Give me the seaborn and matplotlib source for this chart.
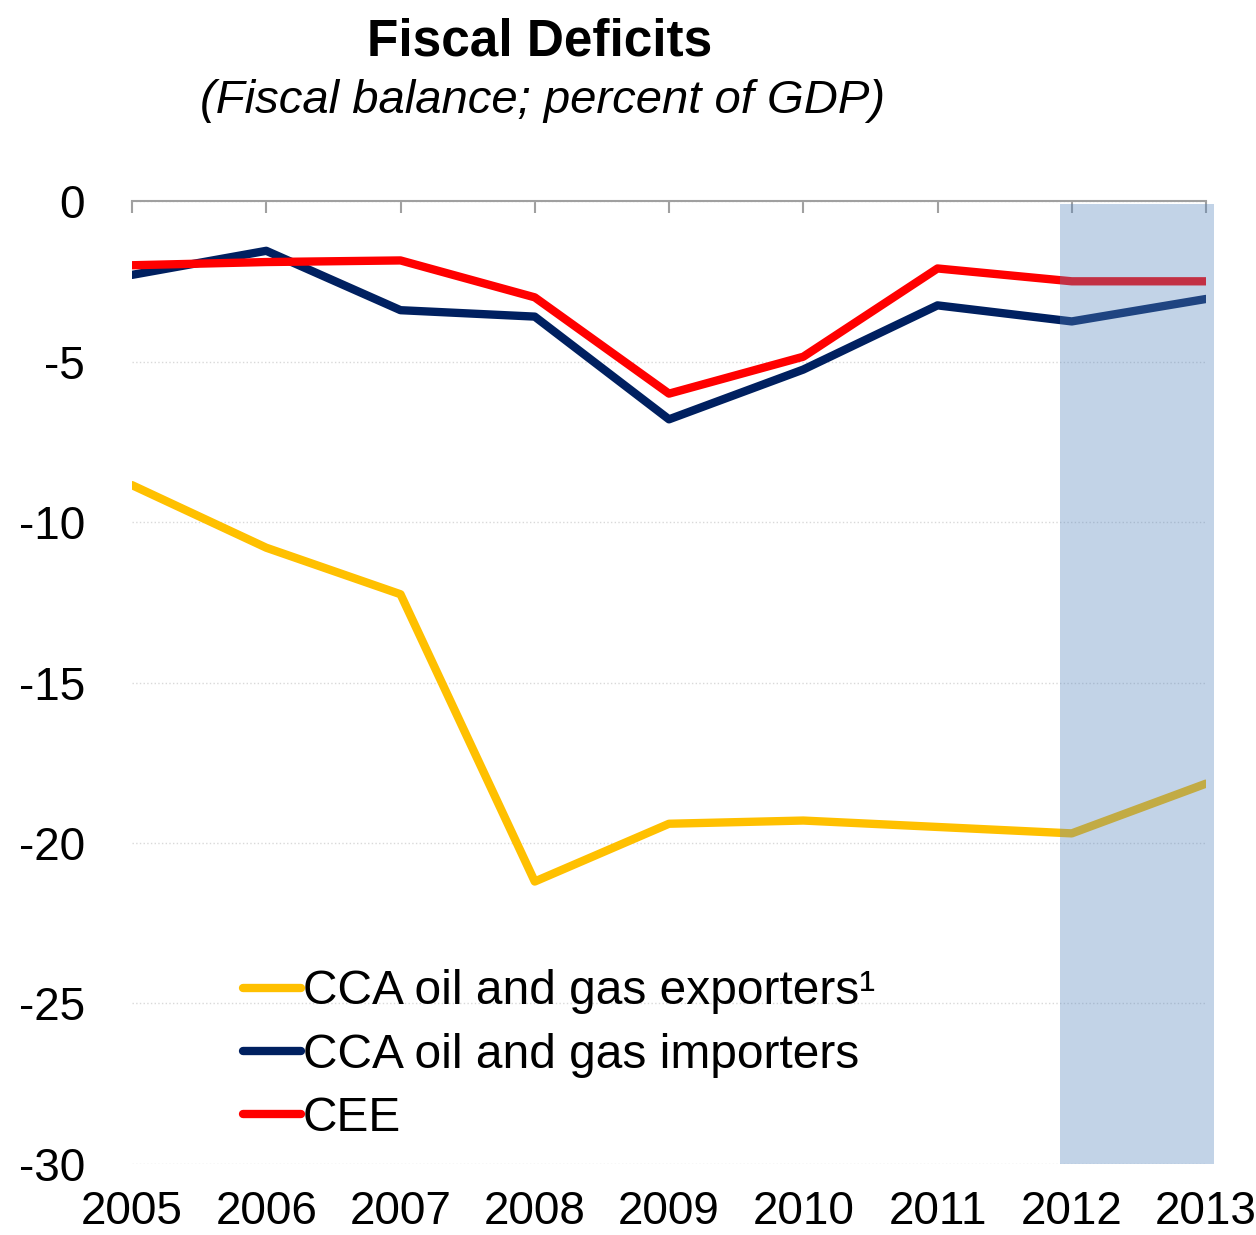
import numpy as np
import pandas as pd
import seaborn as sns
import matplotlib.pyplot as plt

years = [2005, 2006, 2007, 2008, 2009, 2010, 2011, 2012, 2013]
exporters = [-8.85, -10.8, -12.25, -21.2, -19.4, -19.3, -19.5, -19.7, -18.15]
importers = [-2.3, -1.55, -3.4, -3.6, -6.8, -5.25, -3.25, -3.75, -3.05]
cee = [-2.0, -1.9, -1.85, -3.0, -6.0, -4.85, -2.1, -2.5, -2.5]
series_names = ['CCA oil and gas exporters¹', 'CCA oil and gas importers', 'CEE']
colors = ['#FFC000', '#002060', '#FF0000']
y_ticks = [0, -5, -10, -15, -20, -25, -30]

df = pd.DataFrame({
    'year': years * 3,
    'value': exporters + importers + cee,
    'series': np.repeat(series_names, len(years)),
})

sns.set_theme(style='white')
plt.rcParams['font.family'] = ['Liberation Sans', 'DejaVu Sans']
plt.rcParams['axes.unicode_minus'] = False
plt.rcParams['text.color'] = 'black'

fig = plt.figure(figsize=(12.56, 12.35), dpi=100)
ax = fig.add_axes([0.1051, 0.0575, 0.8551, 0.7797])

sns.lineplot(data=df, x='year', y='value', hue='series', hue_order=series_names,
             palette=colors, linewidth=6, solid_capstyle='round', ax=ax, legend=True)

# projection shading
span = ax.axvspan(2011.91, 2013.06, ymin=0, ymax=0.997, color='#5786BE', alpha=0.36,
                  lw=0, zorder=5)
span.set_clip_on(False)

ax.set_xlim(2005, 2013)
ax.set_ylim(-30, 0)
ax.set_yticks(y_ticks)
ax.set_xticks(years)
ax.set_xticklabels([str(y) for y in years])
ax.set_xlabel('')
ax.set_ylabel('')
ax.grid(axis='y', color='#d9d9d9', linestyle=':', linewidth=1)
ax.grid(axis='x', visible=False)

for s in ['left', 'right', 'bottom']:
    ax.spines[s].set_visible(False)
ax.spines['top'].set_color('#a0a0a0')
ax.spines['top'].set_linewidth(1.5)

ax.tick_params(axis='x', bottom=False, top=True, labelbottom=True, labeltop=False,
               direction='in', length=8.5, width=1.5, color='#a0a0a0',
               labelsize=33, pad=19, labelcolor='black')
ax.tick_params(axis='y', left=False, labelsize=33, pad=28, labelcolor='black')

leg = ax.legend(loc='upper left', bbox_to_anchor=(0.1935, 0.215),
                bbox_transform=fig.transFigure, frameon=False, fontsize=34.5,
                handlelength=1.2, handletextpad=0.05, labelspacing=0.38,
                borderpad=0, borderaxespad=0)
for t in leg.get_texts():
    t.set_color('black')
for h in leg.get_lines():
    h.set_linewidth(6)
    h.set_solid_capstyle('round')

fig.text(0.43, 0.966, 'Fiscal Deficits', ha='center', va='center',
         fontsize=37, fontweight='bold', color='black')
fig.text(0.432, 0.918, '(Fiscal balance; percent of GDP)', ha='center', va='center',
         fontsize=34, style='italic', color='black')

fig.savefig('out.png', dpi=100)
